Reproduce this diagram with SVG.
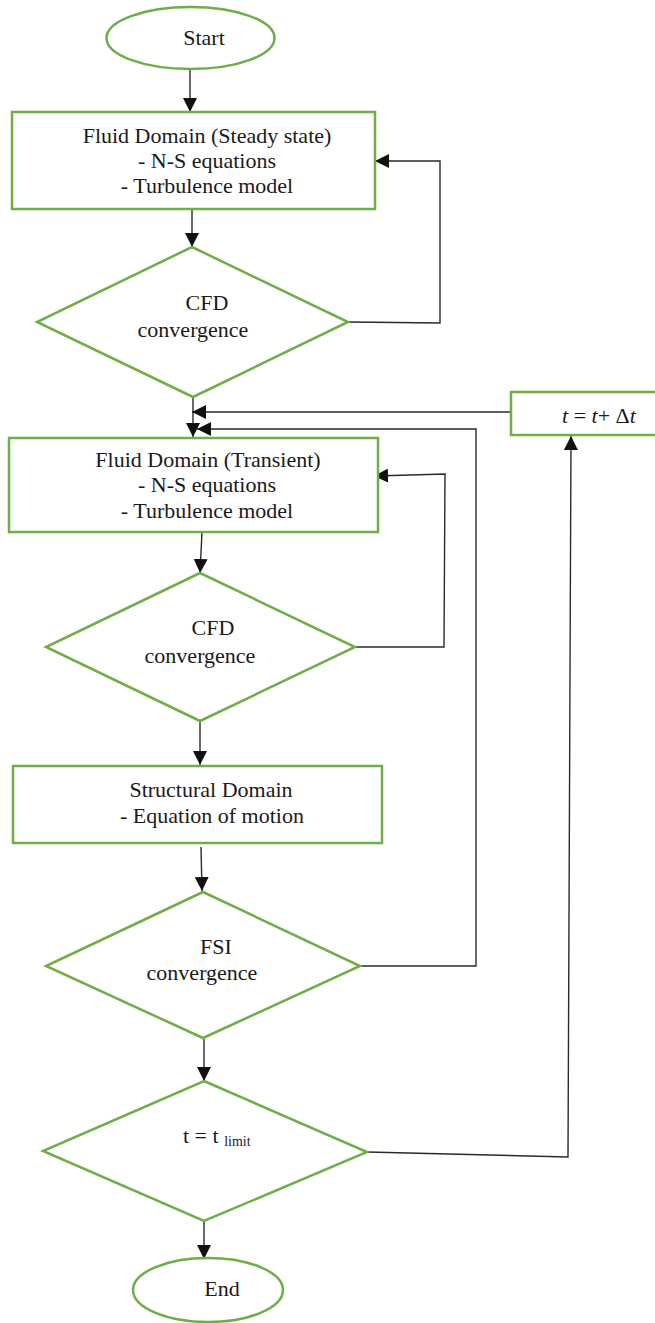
<svg xmlns="http://www.w3.org/2000/svg" width="655" height="1323" viewBox="0 0 655 1323">
  <style>
    .shape { fill: #ffffff; stroke: #70ad47; stroke-width: 2.5; }
    .lbl { font-family: "Liberation Serif", "Times New Roman", serif; font-size: 22px; fill: #1a1a1a; text-anchor: middle; }
    .conn { fill: none; stroke: #2a2a2a; stroke-width: 1.4; }
    .arr { marker-end: url(#head); }
  </style>
  <defs>
    <marker id="head" markerUnits="userSpaceOnUse" markerWidth="14" markerHeight="14" refX="14" refY="7" orient="auto">
      <path d="M0,0 L14,7 L0,14 z" fill="#111111"/>
    </marker>
  </defs>

  <rect width="655" height="1323" fill="#ffffff"/>

  <!-- connectors -->
  <g id="connectors">
    <line class="conn arr" x1="190" y1="70" x2="190" y2="112"/>
    <line class="conn arr" x1="192" y1="210" x2="192" y2="247"/>
    <polyline class="conn arr" points="348,322 440,323 440,161 375,161"/>
    <line class="conn arr" x1="193" y1="398" x2="193" y2="437"/>
    <line class="conn arr" x1="511" y1="412" x2="192" y2="412"/>
    <polyline class="conn arr" points="360,966 476,966 476,429 197,429"/>
    <line class="conn arr" x1="202" y1="532" x2="200" y2="573"/>
    <polyline class="conn arr" points="355,647 444,647 445,474 374,476"/>
    <line class="conn arr" x1="200" y1="721" x2="200" y2="765"/>
    <line class="conn arr" x1="201" y1="847" x2="202" y2="891"/>
    <line class="conn arr" x1="204" y1="1039" x2="204" y2="1081"/>
    <line class="conn arr" x1="204" y1="1221" x2="204" y2="1259"/>
    <polyline class="conn arr" points="367,1152 568,1157 571,436"/>
  </g>

  <g id="start">
    <ellipse class="shape" cx="190.5" cy="38" rx="84" ry="31"/>
    <text class="lbl" x="204" y="45">Start</text>
  </g>

  <g id="fluid-steady">
    <rect class="shape" x="12" y="112" width="363" height="97"/>
    <text class="lbl" x="207" y="143">Fluid Domain (Steady state)</text>
    <text class="lbl" x="207" y="168">- N-S equations</text>
    <text class="lbl" x="207" y="193">- Turbulence model</text>
  </g>

  <g id="cfd-check-1">
    <polygon class="shape" points="192,247 348,322 193,397 37,322"/>
    <text class="lbl" x="207" y="310">CFD</text>
    <text class="lbl" x="193" y="337">convergence</text>
  </g>

  <g id="time-step">
    <rect class="shape" x="511" y="392" width="150" height="43"/>
    <text x="562" y="423" font-family="'Liberation Serif', 'Times New Roman', serif" font-size="22" fill="#1a1a1a"><tspan font-style="italic">t</tspan> = <tspan font-style="italic">t</tspan>+ Δ<tspan font-style="italic">t</tspan></text>
  </g>

  <g id="fluid-transient">
    <rect class="shape" x="9" y="438" width="369" height="94"/>
    <text class="lbl" x="208" y="467">Fluid Domain (Transient)</text>
    <text class="lbl" x="207" y="492">- N-S equations</text>
    <text class="lbl" x="207" y="518">- Turbulence model</text>
  </g>

  <g id="cfd-check-2">
    <polygon class="shape" points="200,573 355,647 200,721 46,647"/>
    <text class="lbl" x="213" y="635">CFD</text>
    <text class="lbl" x="200" y="663">convergence</text>
  </g>

  <g id="structural">
    <rect class="shape" x="13" y="766" width="369" height="77"/>
    <text class="lbl" x="211" y="797">Structural Domain</text>
    <text class="lbl" x="212" y="823">- Equation of motion</text>
  </g>

  <g id="fsi-check">
    <polygon class="shape" points="203,892 360,966 203,1038 46,966"/>
    <text class="lbl" x="216" y="954">FSI</text>
    <text class="lbl" x="202" y="980">convergence</text>
  </g>

  <g id="time-limit">
    <polygon class="shape" points="204,1081 367,1152 204,1221 43,1151"/>
    <text x="183" y="1143" font-family="'Liberation Serif', 'Times New Roman', serif" font-size="22" fill="#1a1a1a">t = t <tspan font-size="14" dy="3">limit</tspan></text>
  </g>

  <g id="end">
    <ellipse class="shape" cx="208" cy="1290" rx="75" ry="32"/>
    <text class="lbl" x="222" y="1296">End</text>
  </g>
</svg>
